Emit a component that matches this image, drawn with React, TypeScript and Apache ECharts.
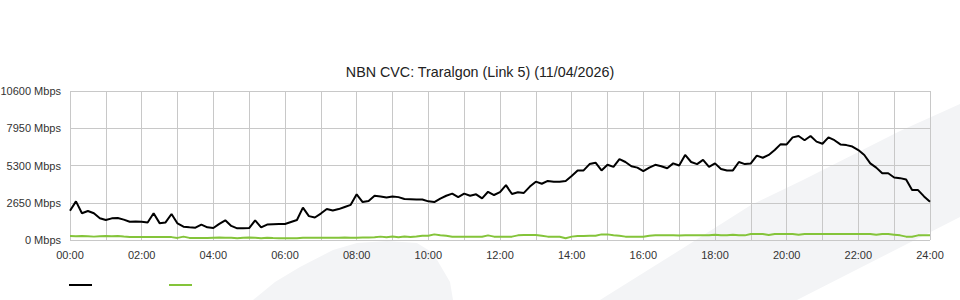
import React, { useEffect, useRef } from "react";
import * as echarts from "echarts";

const TITLE = "NBN CVC: Traralgon (Link 5) (11/04/2026)";
const SAMPLE_MINUTES = 10;
const Y_MAX = 10600;
const Y_STEP = 2650;
const X_MAX_MIN = 1440;

// Black series (Mbps), one value every 10 minutes from 00:00 to 24:00
const downloadMbps = [
  2080, 2750, 1900, 2060, 1900, 1550,
  1420, 1540, 1560, 1450, 1300, 1320,
  1300, 1250, 1900, 1200, 1250, 1850,
  1180, 950, 900, 880, 1100, 900,
  850, 1150, 1400, 1000, 830, 830,
  850, 1400, 900, 1100, 1120, 1130,
  1140, 1280, 1420, 2300, 1700, 1600,
  1880, 2200, 2100, 2200, 2350, 2500,
  3250, 2700, 2780, 3150, 3100, 3030,
  3100, 3050, 2920, 2900, 2880, 2880,
  2750, 2700, 2950, 3150, 3300, 3050,
  3300, 3150, 3250, 2960, 3430, 3200,
  3400, 3900, 3270, 3400, 3350, 3800,
  4150, 4000, 4200, 4150, 4150, 4200,
  4550, 4950, 4950, 5400, 5500, 4950,
  5350, 5200, 5750, 5550, 5250, 5150,
  4900, 5150, 5350, 5250, 5100, 5450,
  5300, 6050, 5550, 5400, 5700, 5200,
  5450, 5050, 4950, 4950, 5550, 5400,
  5450, 6000, 5850, 6050, 6400, 6820,
  6800, 7300, 7400, 7100, 7400, 7000,
  6850, 7300, 7100, 6800, 6750, 6650,
  6400, 6050, 5450, 5150, 4750, 4750,
  4450, 4400, 4300, 3550, 3550, 3100,
  2720,
];

// Green series (Mbps), one value every 10 minutes from 00:00 to 24:00
const uploadMbps = [
  280, 270, 280, 275, 240, 270,
  280, 265, 290, 250, 220, 215,
  215, 210, 220, 215, 210, 205,
  150, 240, 150, 145, 140, 140,
  160, 170, 165, 165, 120, 165,
  170, 165, 120, 160, 140, 130,
  120, 125, 120, 165, 160, 165,
  165, 165, 165, 165, 170, 165,
  165, 170, 175, 200, 240, 200,
  250, 200, 245, 210, 250, 300,
  300, 400, 330, 300, 235, 235,
  235, 240, 235, 235, 330, 240,
  235, 235, 240, 330, 350, 355,
  355, 300, 240, 235, 235, 130,
  240, 280, 280, 300, 300, 400,
  400, 330, 300, 240, 240, 235,
  235, 300, 330, 330, 330, 330,
  320, 330, 330, 335, 330, 330,
  380, 330, 330, 380, 330, 330,
  425, 425, 425, 360, 425, 425,
  425, 425, 380, 425, 425, 425,
  425, 425, 425, 420, 425, 425,
  425, 425, 425, 380, 425, 425,
  380, 330, 240, 235, 330, 330,
  330,
];

const FONT = "'Liberation Sans', Arial, sans-serif";

function toPairs(values: number[]) {
  return values.map((v, i) => [i * SAMPLE_MINUTES, v]);
}

function hhmm(min: number) {
  const h = Math.round(min / 60);
  return (h < 10 ? "0" : "") + h + ":00";
}

export default function App() {
  const ref = useRef<HTMLDivElement>(null);
  useEffect(() => {
    if (!ref.current) return;
    const chart = echarts.init(ref.current, undefined, { renderer: "svg" });
    chart.setOption({
      animation: false,
      backgroundColor: "#ffffff",
      title: {
        text: TITLE,
        left: "center",
        top: 60,
        textStyle: { fontFamily: FONT, fontSize: 14.3, fontWeight: "normal", color: "#222" },
      },
      grid: {
        left: 70,
        right: 30,
        top: 91,
        bottom: 60,
        containLabel: false,
        outerBoundsMode: "none",
      },
      xAxis: {
        type: "value",
        min: 0,
        max: X_MAX_MIN,
        interval: 60,
        axisLine: { show: false },
        axisTick: { show: false },
        splitLine: { show: true, lineStyle: { color: "#c8c8c8", width: 1 } },
        axisLabel: {
          fontFamily: FONT,
          fontSize: 11,
          color: "#333",
          margin: 9,
          formatter: (v: number) => (v % 120 === 0 ? hhmm(v) : ""),
        },
      },
      yAxis: {
        type: "value",
        min: 0,
        max: Y_MAX,
        interval: Y_STEP,
        axisLine: { show: false },
        axisTick: { show: false },
        splitLine: { show: true, lineStyle: { color: "#c8c8c8", width: 1 } },
        axisLabel: {
          fontFamily: FONT,
          fontSize: 11,
          color: "#333",
          margin: 9,
          padding: [0, 0, 4, 0],
          formatter: (v: number) => v + " Mbps",
        },
      },
      graphic: [
        {
          type: "polygon",
          z: -10,
          silent: true,
          shape: {
            points: [
              [253, 300], [275, 282], [300, 267], [333, 250], [357, 243], [387, 241],
              [417, 243], [433, 253], [443, 270], [450, 282], [453, 300],
            ],
          },
          style: { fill: "#f3f4f6" },
        },
        {
          type: "polygon",
          z: -10,
          silent: true,
          shape: {
            points: [
              [600, 300], [680, 250], [751, 205], [803, 180], [900, 131], [960, 104],
              [960, 217], [797, 300],
            ],
          },
          style: { fill: "#f3f4f6" },
        },
        {
          type: "line",
          silent: true,
          shape: { x1: 69, y1: 285, x2: 92, y2: 285 },
          style: { stroke: "#000", lineWidth: 2 },
        },
        {
          type: "line",
          silent: true,
          shape: { x1: 169, y1: 285, x2: 192, y2: 285 },
          style: { stroke: "#84c43a", lineWidth: 2 },
        },
      ],
      series: [
        {
          name: "Upload",
          type: "line",
          data: toPairs(uploadMbps),
          showSymbol: false,
          symbol: "none",
          lineStyle: { color: "#84c43a", width: 2 },
          itemStyle: { color: "#84c43a" },
          z: 3,
        },
        {
          name: "Download",
          type: "line",
          data: toPairs(downloadMbps),
          showSymbol: false,
          symbol: "none",
          lineStyle: { color: "#000", width: 2 },
          itemStyle: { color: "#000" },
          z: 4,
        },
      ],
    });
    return () => chart.dispose();
  }, []);
  return (
    <div
      ref={ref}
      style={{ position: "absolute", left: 0, top: 0, width: 960, height: 300 }}
    />
  );
}
